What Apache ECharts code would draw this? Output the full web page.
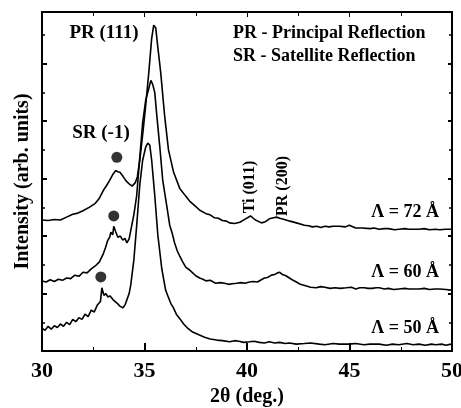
<!DOCTYPE html>
<html><head><meta charset="utf-8">
<script src="https://cdn.jsdelivr.net/npm/echarts@6/dist/echarts.min.js"></script>
<style>html,body{margin:0;padding:0;background:#fff}#c{width:461px;height:408px}</style>
</head><body><div id="c"></div>
<script>
// 2θ (deg.) and intensity (arb. units, offset per curve)
const xTicks = [30, 35, 40, 45, 50];
const curve72x = [30.0,30.3,30.6,30.9,31.2,31.5,31.75,32.0,32.3,32.6,32.8,33.0,33.15,33.3,33.45,33.6,33.7,33.8,33.95,34.1,34.25,34.4,34.55,34.65,34.77,34.91,35.06,35.21,35.35,35.45,35.55,35.64,35.79,35.98,36.17,36.42,36.72,37.0,37.2,37.45,37.7,38.0,38.2,38.4,38.6,38.8,39.0,39.15,39.4,39.65,39.93,40.17,40.41,40.71,40.9,41.09,41.3,41.44,41.6,41.82,42.1,42.41,42.8,43.0,43.19,43.4,43.6,43.8,44.01,44.2,44.5,44.8,44.99,45.3,45.62,46.0,46.2,46.45,46.7,46.9,47.2,47.42,47.7,47.9,48.15,48.39,48.65,48.9,49.2,49.4,49.7,49.95];
const curve72y = [2.28,2.27,2.29,2.28,2.33,2.38,2.40,2.44,2.50,2.57,2.66,2.80,2.88,2.97,3.07,3.14,3.12,3.11,3.04,2.96,2.91,2.87,2.93,3.03,3.32,3.76,4.28,4.85,5.44,5.67,5.62,5.32,4.85,4.10,3.50,3.11,2.83,2.70,2.61,2.53,2.45,2.39,2.37,2.32,2.31,2.27,2.26,2.23,2.22,2.24,2.30,2.35,2.28,2.23,2.25,2.30,2.32,2.33,2.31,2.29,2.26,2.23,2.19,2.18,2.16,2.17,2.15,2.17,2.16,2.17,2.17,2.16,2.19,2.14,2.14,2.13,2.14,2.12,2.13,2.13,2.11,2.12,2.13,2.12,2.12,2.12,2.13,2.11,2.12,2.11,2.12,2.12];
const curve60x = [30.0,30.2,30.4,30.6,30.8,31.0,31.2,31.4,31.6,31.8,32.0,32.2,32.4,32.6,32.8,33.0,33.1,33.2,33.3,33.36,33.45,33.5,33.6,33.7,33.82,33.94,34.05,34.14,34.25,34.33,34.48,34.62,34.77,34.91,35.06,35.21,35.31,35.4,35.5,35.6,35.74,35.89,36.08,36.23,36.35,36.47,36.6,36.72,36.85,37.01,37.2,37.35,37.5,37.69,37.85,38.0,38.2,38.47,38.7,38.9,39.1,39.29,39.5,39.7,39.9,40.12,40.3,40.51,40.7,40.85,41.0,41.19,41.35,41.48,41.6,41.73,41.9,42.07,42.25,42.41,42.6,42.9,43.1,43.38,43.6,43.8,44.05,44.3,44.55,44.84,45.1,45.3,45.5,45.72,45.9,46.1,46.3,46.45,46.7,46.9,47.15,47.42,47.7,47.9,48.15,48.39,48.65,48.9,49.15,49.4,49.7,49.95];
const curve60y = [1.22,1.20,1.24,1.21,1.25,1.23,1.27,1.26,1.32,1.30,1.37,1.36,1.43,1.48,1.55,1.70,1.80,1.92,1.98,2.07,2.02,2.17,2.07,1.98,2.00,1.93,1.96,1.88,1.95,2.10,2.37,2.71,3.37,3.97,4.37,4.57,4.71,4.64,4.50,4.10,3.58,2.97,2.54,2.19,2.05,1.88,1.74,1.65,1.56,1.46,1.41,1.36,1.31,1.27,1.25,1.22,1.23,1.18,1.19,1.18,1.16,1.17,1.18,1.19,1.18,1.20,1.21,1.20,1.24,1.27,1.28,1.32,1.33,1.36,1.37,1.33,1.31,1.27,1.23,1.20,1.16,1.13,1.11,1.10,1.12,1.11,1.09,1.10,1.09,1.10,1.11,1.08,1.10,1.10,1.09,1.09,1.10,1.10,1.08,1.09,1.07,1.08,1.09,1.08,1.08,1.08,1.09,1.07,1.08,1.08,1.07,1.06];
const curve50x = [30.0,30.15,30.3,30.45,30.6,30.75,30.9,31.05,31.2,31.35,31.5,31.65,31.8,31.95,32.1,32.25,32.4,32.55,32.7,32.85,32.92,33.02,33.12,33.21,33.31,33.41,33.5,33.6,33.7,33.8,33.94,34.05,34.14,34.25,34.33,34.48,34.62,34.77,34.91,35.06,35.16,35.26,35.35,35.5,35.65,35.84,36.03,36.15,36.28,36.4,36.57,36.75,36.91,37.1,37.35,37.6,37.93,38.2,38.52,38.8,39.15,39.4,39.6,39.85,40.12,40.35,40.6,40.85,41.09,41.35,41.6,41.85,42.07,42.4,42.8,43.1,43.53,43.8,44.2,44.5,44.99,45.3,45.7,46.0,46.45,46.8,47.1,47.4,47.8,48.1,48.39,48.7,49.0,49.2,49.5,49.7,49.95];
const curve50y = [0.40,0.36,0.43,0.38,0.44,0.41,0.47,0.43,0.50,0.46,0.55,0.51,0.58,0.55,0.64,0.60,0.71,0.68,0.80,0.86,1.10,0.97,1.00,0.94,0.96,0.92,0.88,0.85,0.82,0.78,0.75,0.80,0.89,1.00,1.15,1.58,2.19,2.89,3.32,3.55,3.62,3.58,3.32,2.71,2.02,1.44,1.06,0.95,0.83,0.76,0.63,0.55,0.47,0.40,0.33,0.29,0.24,0.21,0.19,0.18,0.16,0.18,0.17,0.15,0.16,0.17,0.15,0.14,0.16,0.14,0.15,0.13,0.14,0.12,0.13,0.14,0.12,0.11,0.13,0.12,0.12,0.13,0.11,0.12,0.12,0.10,0.12,0.11,0.13,0.11,0.12,0.10,0.12,0.11,0.12,0.10,0.12];
const dotsX = [33.65, 33.50, 32.87];
const dotsY = [3.37, 2.35, 1.29];

const zip = (a, b) => a.map((v, i) => [v, b[i]]);
const serif = '"Liberation Serif","DejaVu Serif",serif';
const chart = echarts.init(document.getElementById('c'), null, {renderer: 'canvas'});
const lineStyle = {color: '#000', width: 1.6};
const axisCommon = {
  axisLine: {show: true, onZero: false, lineStyle: {color: '#000', width: 2}},
  splitLine: {show: false}
};
chart.setOption({
  animation: false,
  backgroundColor: '#fff',
  grid: {left: 42, top: 12, right: 9, bottom: 57, containLabel: false, outerBoundsMode: 'none'},
  xAxis: [
    Object.assign({}, axisCommon, {
      type: 'value', min: xTicks[0], max: xTicks[xTicks.length - 1], interval: 5, position: 'bottom',
      axisTick: {inside: true, length: 8, lineStyle: {color: '#000', width: 2}},
      minorTick: {show: true, splitNumber: 2, length: 4, lineStyle: {color: '#000', width: 1}},
      axisLabel: {color: '#000', fontFamily: serif, fontWeight: 'bold', fontSize: 22, margin: 9},
      name: '2θ (deg.)', nameLocation: 'middle', nameGap: 36,
      nameTextStyle: {color: '#000', fontFamily: serif, fontWeight: 'bold', fontSize: 20}
    }),
    Object.assign({}, axisCommon, {
      type: 'value', min: xTicks[0], max: xTicks[xTicks.length - 1], interval: 5, position: 'top',
      axisTick: {inside: true, length: 5, lineStyle: {color: '#000', width: 1}},
      minorTick: {show: true, splitNumber: 2, length: 4, lineStyle: {color: '#000', width: 1}},
      axisLabel: {show: false}
    })
  ],
  yAxis: [
    Object.assign({}, axisCommon, {
      type: 'value', min: 0, max: 5.9, interval: 1, position: 'left',
      axisTick: {inside: true, length: 5, lineStyle: {color: '#000', width: 2}},
      minorTick: {show: true, splitNumber: 2, length: 3, lineStyle: {color: '#000', width: 1.5}},
      axisLabel: {show: false},
      name: 'Intensity (arb. units)', nameLocation: 'middle', nameGap: 9, nameRotate: 90,
      nameTextStyle: {color: '#000', fontFamily: serif, fontWeight: 'bold', fontSize: 20}
    }),
    Object.assign({}, axisCommon, {
      type: 'value', min: 0, max: 5.9, interval: 1, position: 'right',
      axisTick: {inside: true, length: 4, lineStyle: {color: '#000', width: 2}},
      minorTick: {show: true, splitNumber: 2, length: 3, lineStyle: {color: '#000', width: 1.5}},
      axisLabel: {show: false}
    })
  ],
  series: [
    {type: 'line', data: zip(curve72x, curve72y), showSymbol: false, lineStyle: lineStyle, z: 3},
    {type: 'line', data: zip(curve60x, curve60y), showSymbol: false, lineStyle: lineStyle, z: 3},
    {type: 'line', data: zip(curve50x, curve50y), showSymbol: false, lineStyle: lineStyle, z: 3},
    {type: 'scatter', data: zip(dotsX, dotsY), symbol: 'circle', symbolSize: 11, itemStyle: {color: '#000'}, z: 4}
  ],
  graphic: [
    {type: 'text', x: 104, y: 33, style: {text: 'PR (111)', font: 'bold 19px ' + serif, fill: '#000', align: 'center', verticalAlign: 'middle'}},
    {type: 'text', x: 101, y: 133, style: {text: 'SR (-1)', font: 'bold 19px ' + serif, fill: '#000', align: 'center', verticalAlign: 'middle'}},
    {type: 'text', x: 233, y: 33, style: {text: 'PR - Principal Reflection', font: 'bold 18px ' + serif, fill: '#000', align: 'left', verticalAlign: 'middle'}},
    {type: 'text', x: 233, y: 56, style: {text: 'SR - Satellite Reflection', font: 'bold 18px ' + serif, fill: '#000', align: 'left', verticalAlign: 'middle'}},
    {type: 'text', x: 250, y: 187, rotation: Math.PI / 2, style: {text: 'Ti (011)', font: 'bold 16px ' + serif, fill: '#000', align: 'center', verticalAlign: 'middle'}},
    {type: 'text', x: 283, y: 186, rotation: Math.PI / 2, style: {text: 'PR (200)', font: 'bold 16px ' + serif, fill: '#000', align: 'center', verticalAlign: 'middle'}},
    {type: 'text', x: 439, y: 212, style: {text: 'Λ = 72 Å', font: 'bold 18px ' + serif, fill: '#000', align: 'right', verticalAlign: 'middle'}},
    {type: 'text', x: 439, y: 272, style: {text: 'Λ = 60 Å', font: 'bold 18px ' + serif, fill: '#000', align: 'right', verticalAlign: 'middle'}},
    {type: 'text', x: 439, y: 328, style: {text: 'Λ = 50 Å', font: 'bold 18px ' + serif, fill: '#000', align: 'right', verticalAlign: 'middle'}}
  ]
});
</script></body></html>
